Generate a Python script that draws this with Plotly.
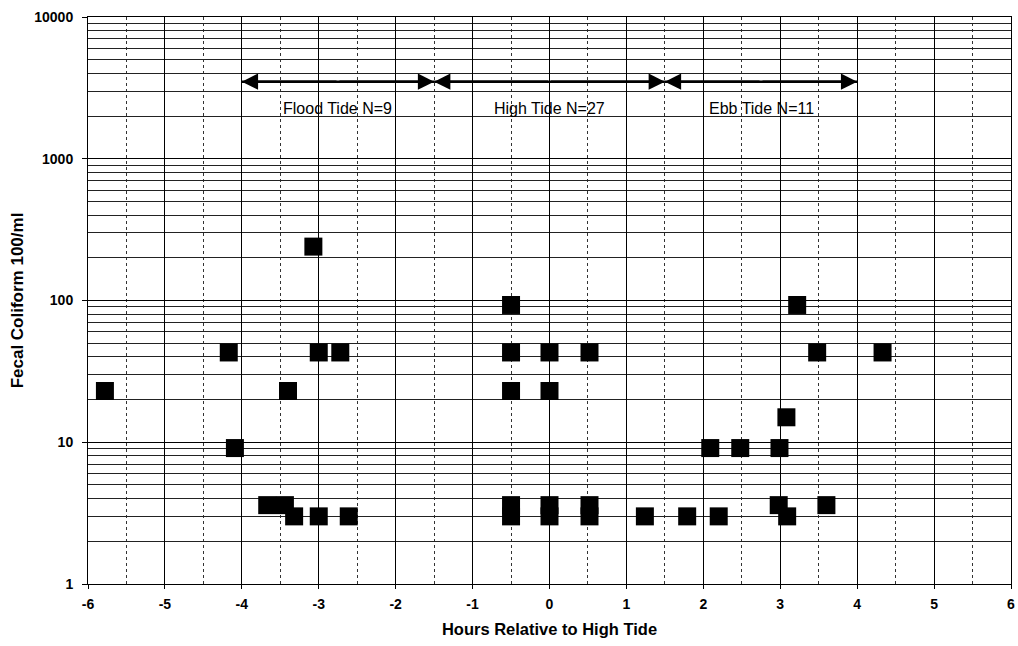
import math
import plotly.graph_objects as go

# Hours relative to high tide and fecal coliform (MPN/100 ml)
hours = [-5.78, -4.17, -4.09, -3.07, -3.4, -3.0, -2.72, -3.67, -3.44, -3.32, -3.0, -2.61,
         -0.5, -0.5, 0.0, 0.52, -0.5, 0.0, -0.5, -0.5, 0.0, 0.0, 0.52, 0.52, 1.24,
         1.79, 2.2, 2.09, 2.48, 2.99, 3.08, 3.22, 3.48, 4.33, 2.98, 3.09, 3.6]
coliform = [23, 43, 9.1, 240, 23, 43, 43, 3.6, 3.6, 3.0, 3.0, 3.0,
            93, 43, 43, 43, 23, 23, 3.6, 3.0, 3.6, 3.0, 3.6, 3.0, 3.0,
            3.0, 3.0, 9.1, 9.1, 9.1, 15, 93, 43, 43, 3.6, 3.0, 3.6]

tide_labels = ["Flood Tide N=9", "High Tide N=27", "Ebb Tide N=11"]
tide_start = [-4.0, -1.5, 1.5]
tide_end = [-1.5, 1.5, 4.0]
arrow_level = 3500
label_level = 2250

x_ticks = [-6, -5, -4, -3, -2, -1, 0, 1, 2, 3, 4, 5, 6]
x_ticktext = ["-6", "-5", "-4", "-3", "-2", "-1", "0", "1", "2", "3", "4", "5", "6"]
y_ticks = [1, 10, 100, 1000, 10000]
y_ticktext = ["1", "10", "100", "1000", "10000"]

FONT = "Liberation Sans, Arial, sans-serif"

fig = go.Figure()
fig.add_trace(go.Scatter(
    x=hours, y=coliform, mode="markers",
    marker=dict(symbol="square", size=18, color="black", line=dict(width=0)),
    showlegend=False, hoverinfo="x+y"))

ya = math.log10(arrow_level)
yl = math.log10(label_level)
for lab, s, e in zip(tide_labels, tide_start, tide_end):
    mid = (s + e) / 2
    fig.add_shape(type="line", x0=s, x1=e, y0=arrow_level, y1=arrow_level,
                  xref="x", yref="y", line=dict(color="black", width=2.5))
    for a, b in ((s, mid), (e, mid)):
        fig.add_annotation(x=a, y=ya, ax=b, ay=ya,
                           xref="x", yref="y", axref="x", ayref="y",
                           text="", showarrow=True, arrowhead=2, arrowsize=1.3,
                           arrowwidth=2.5, arrowcolor="black", standoff=0)
    fig.add_annotation(x=mid, y=yl, xref="x", yref="y", text=lab,
                       showarrow=False, font=dict(family=FONT, size=16, color="black"))

fig.update_layout(
    width=1018, height=646,
    margin=dict(l=88, r=7, t=17, b=62),
    paper_bgcolor="white", plot_bgcolor="white",
    font=dict(family=FONT, color="black"),
)
fig.update_xaxes(
    range=[-6, 6], tickvals=x_ticks, ticktext=x_ticktext, automargin=False,
    showgrid=True, gridcolor="black", gridwidth=1,
    minor=dict(dtick=0.5, tick0=0.5, showgrid=True, gridcolor="#333", griddash="dot", gridwidth=1),
    showline=True, linecolor="black", linewidth=1, mirror=True, zeroline=False,
    ticks="outside", ticklen=4, tickcolor="black", ticklabelstandoff=3,
    tickfont=dict(family=FONT, size=14, color="black", weight="bold"),
    title=dict(text="Hours Relative to High Tide", standoff=12,
               font=dict(family=FONT, size=16.5, color="black", weight="bold")),
)
fig.update_yaxes(
    type="log", range=[0, 4], tickvals=y_ticks, ticktext=y_ticktext, automargin=False,
    showgrid=True, gridcolor="black", gridwidth=1,
    minor=dict(dtick="D1", showgrid=True, gridcolor="#222", gridwidth=1),
    showline=True, linecolor="black", linewidth=1, mirror=True, zeroline=False,
    ticks="outside", ticklen=5, tickcolor="black", ticklabelstandoff=6,
    tickfont=dict(family=FONT, size=14, color="black", weight="bold"),
    title=dict(text="Fecal Coliform 100/ml", standoff=6,
               font=dict(family=FONT, size=17, color="black", weight="bold")),
)

fig.write_html("out.html")
